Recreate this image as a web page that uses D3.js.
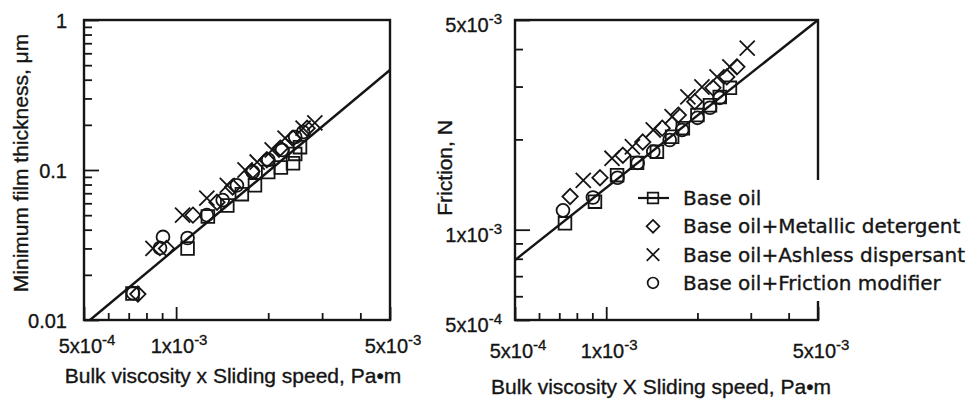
<!DOCTYPE html>
<html>
<head>
<meta charset="utf-8">
<script src="https://cdn.jsdelivr.net/npm/d3@7"></script>
<style>
  body { margin: 0; background: #fff; }
  svg { display: block; font-family: "Liberation Sans", Arial, sans-serif; }
  text { fill: #151515; stroke: #151515; stroke-width: 0.35px; }
</style>
</head>
<body>
<svg id="chart" width="967" height="399"></svg>
<script>
// shared x axis: bulk viscosity x sliding speed, Pa·m
const xDomain = [5e-4, 5e-3];
const xTickValues = [5e-4, 1e-3, 5e-3];
const xTickBase = ['5x10', '1x10', '5x10'];
const xTickExp = ['-4', '-3', '-3'];

// left panel: minimum film thickness, µm
const filmDomain = [0.01, 1];
const filmTickValues = [0.01, 0.1, 1];
const filmTickLabels = ['0.01', '0.1', '1'];
const filmFit = [[5.23e-4, 0.01], [5e-3, 0.464]];
const filmBaseOil = [[7.2e-4, 0.015], [1.09e-3, 0.030], [1.27e-3, 0.049], [1.47e-3, 0.058], [1.64e-3, 0.069],
  [1.81e-3, 0.079], [2.0e-3, 0.097], [2.2e-3, 0.104], [2.41e-3, 0.111], [2.45e-3, 0.128], [2.54e-3, 0.142]];
const filmDetergent = [[7.5e-4, 0.0149], [9.3e-4, 0.030], [1.135e-3, 0.050], [1.36e-3, 0.061], [1.53e-3, 0.077],
  [1.77e-3, 0.098], [1.98e-3, 0.117], [2.19e-3, 0.140], [2.41e-3, 0.163], [2.68e-3, 0.190]];
const filmAshless = [[8.4e-4, 0.030], [1.05e-3, 0.050], [1.26e-3, 0.065], [1.47e-3, 0.079], [1.68e-3, 0.100],
  [1.84e-3, 0.113], [2.06e-3, 0.136], [2.27e-3, 0.163], [2.6e-3, 0.190], [2.84e-3, 0.206]];
const filmFriction = [[7.23e-4, 0.0151], [8.86e-4, 0.0302], [9.06e-4, 0.0358], [1.09e-3, 0.0352], [1.26e-3, 0.050],
  [1.42e-3, 0.063], [1.58e-3, 0.079], [1.78e-3, 0.097], [2.0e-3, 0.117], [2.22e-3, 0.136], [2.45e-3, 0.166], [2.6e-3, 0.179]];

// right panel: friction, N
const frictionDomain = [5e-4, 5e-3];
const frictionTickValues = [5e-4, 1e-3, 5e-3];
const frictionTickBase = ['5x10', '1x10', '5x10'];
const frictionTickExp = ['-4', '-3', '-3'];
const frictionFit = [[5e-4, 7.92e-4], [5e-3, 5e-3]];
const frictionBaseOil = [[7.31e-4, 1.05e-3], [9.18e-4, 1.24e-3], [1.086e-3, 1.52e-3], [1.264e-3, 1.67e-3], [1.47e-3, 1.82e-3],
  [1.65e-3, 2.04e-3], [1.79e-3, 2.18e-3], [2.0e-3, 2.41e-3], [2.2e-3, 2.6e-3], [2.37e-3, 2.77e-3], [2.56e-3, 2.97e-3]];
const frictionDetergent = [[7.6e-4, 1.29e-3], [9.54e-4, 1.49e-3], [1.135e-3, 1.77e-3], [1.32e-3, 1.96e-3], [1.53e-3, 2.18e-3],
  [1.73e-3, 2.41e-3], [1.96e-3, 2.67e-3], [2.25e-3, 2.97e-3], [2.5e-3, 3.23e-3], [2.7e-3, 3.49e-3]];
const frictionAshless = [[8.4e-4, 1.46e-3], [1.045e-3, 1.73e-3], [1.22e-3, 1.89e-3], [1.43e-3, 2.15e-3], [1.65e-3, 2.38e-3],
  [1.86e-3, 2.77e-3], [2.07e-3, 2.99e-3], [2.32e-3, 3.23e-3], [2.56e-3, 3.49e-3], [2.92e-3, 4.03e-3]];
const frictionFriction = [[7.2e-4, 1.16e-3], [9.04e-4, 1.28e-3], [1.09e-3, 1.49e-3], [1.27e-3, 1.67e-3], [1.43e-3, 1.82e-3],
  [1.62e-3, 1.99e-3], [1.78e-3, 2.15e-3], [2.0e-3, 2.36e-3], [2.2e-3, 2.55e-3], [2.37e-3, 2.75e-3]];

const seriesNames = ['Base oil', 'Base oil+Metallic detergent', 'Base oil+Ashless dispersant', 'Base oil+Friction modifier'];
const seriesShapes = ['square', 'diamond', 'times', 'circle'];

const ink = '#151515';
const svg = d3.select('#chart');

const symbolType = {
  square: d3.symbolSquare2,
  diamond: d3.symbolDiamond2,
  times: d3.symbolTimes,
  circle: d3.symbolCircle
};
const symbolSize = { square: 205, diamond: 150, times: 150, circle: 130 };

function symbolPath(shape, scale = 1) {
  return d3.symbol().type(symbolType[shape]).size(symbolSize[shape] * scale)();
}

function addExpLabel(sel, base, exp) {
  sel.append('tspan').text(base);
  sel.append('tspan').attr('dy', -8).attr('font-size', 15).text(exp);
}

function drawPanel(p) {
  const x = d3.scaleLog().domain(xDomain).range([p.left, p.right]);
  const y = d3.scaleLog().domain(p.yDomain).range([p.bottom, p.top]);
  const g = svg.append('g').attr('color', ink);

  const isMajor = (v, list) => list.some((t) => Math.abs(Math.log10(v / t)) < 1e-6);
  const xMinor = x.ticks().filter((v) => !isMajor(v, xTickValues));
  const yMinor = y.ticks().filter((v) => !isMajor(v, p.yTickValues));

  const tickAxis = (axis, values, len) => (sel) => {
    sel.call(axis.tickValues(values).tickSize(-len).tickSizeOuter(0).tickFormat(() => ''));
    sel.select('.domain').remove();
    sel.selectAll('line').attr('stroke-width', 1.8);
  };

  g.append('g').attr('transform', `translate(0,${p.bottom})`).call(tickAxis(d3.axisBottom(x), xMinor, 7));
  g.append('g').attr('transform', `translate(0,${p.bottom})`).call(tickAxis(d3.axisBottom(x), xTickValues, 13));
  g.append('g').attr('transform', `translate(${p.left},0)`).call(tickAxis(d3.axisLeft(y), yMinor, 8));
  g.append('g').attr('transform', `translate(${p.left},0)`).call(tickAxis(d3.axisLeft(y), p.yTickValues, 15));

  // fit line
  g.append('path')
    .datum(p.fit)
    .attr('fill', 'none')
    .attr('stroke', ink)
    .attr('stroke-width', 2.4)
    .attr('d', d3.line().x((d) => x(d[0])).y((d) => y(d[1])));

  // points
  p.series.forEach((pts, i) => {
    const shape = seriesShapes[i];
    g.append('g')
      .selectAll('path')
      .data(pts)
      .join('path')
      .attr('transform', (d) => `translate(${x(d[0])},${y(d[1])})`)
      .attr('d', symbolPath(shape))
      .attr('fill', 'none')
      .attr('stroke', ink)
      .attr('stroke-width', 1.8);
  });

  // frame
  g.append('rect')
    .attr('x', p.left).attr('y', p.top)
    .attr('width', p.right - p.left).attr('height', p.bottom - p.top)
    .attr('fill', 'none').attr('stroke', ink).attr('stroke-width', 2.4);

  // x tick labels
  xTickValues.forEach((v, i) => {
    const t = g.append('text')
      .attr('x', x(v) + 3).attr('y', p.bottom + p.xLabelDy)
      .attr('text-anchor', 'middle').attr('font-size', 20);
    addExpLabel(t, xTickBase[i], xTickExp[i]);
  });

  // y tick labels
  p.yTickValues.forEach((v, i) => {
    const t = g.append('text')
      .attr('x', p.left - p.yLabelGap).attr('y', y(v) + p.yLabelDy)
      .attr('text-anchor', 'end').attr('font-size', 20);
    if (p.yTickExp) addExpLabel(t, p.yTickBase[i], p.yTickExp[i]);
    else t.text(p.yTickBase[i]);
  });

  // axis titles
  g.append('text')
    .attr('x', p.xTitleX).attr('y', p.xTitleY)
    .attr('text-anchor', 'middle').attr('font-size', 21)
    .text(p.xTitle);
  g.append('text')
    .attr('transform', `translate(${p.yTitleX},${p.yTitleY}) rotate(-90)`)
    .attr('text-anchor', 'middle').attr('font-size', 21)
    .text(p.yTitle);

  return { x, y, g };
}

drawPanel({
  left: 84, right: 390, top: 20, bottom: 320,
  yDomain: filmDomain, yTickValues: filmTickValues, yTickBase: filmTickLabels,
  fit: filmFit,
  series: [filmBaseOil, filmDetergent, filmAshless, filmFriction],
  xLabelDy: 33, yLabelGap: 17, yLabelDy: 8,
  xTitle: 'Bulk viscosity x Sliding speed, Pa\u2022m', xTitleX: 233, xTitleY: 383,
  yTitle: 'Minimum film thickness, \u03bcm', yTitleX: 28, yTitleY: 163
});

drawPanel({
  left: 515, right: 818, top: 20, bottom: 320,
  yDomain: frictionDomain, yTickValues: frictionTickValues,
  yTickBase: frictionTickBase, yTickExp: frictionTickExp,
  fit: frictionFit,
  series: [frictionBaseOil, frictionDetergent, frictionAshless, frictionFriction],
  xLabelDy: 38, yLabelGap: 13, yLabelDy: 12,
  xTitle: 'Bulk viscosity X Sliding speed, Pa\u2022m', xTitleX: 661, xTitleY: 394,
  yTitle: 'Friction, N', yTitleX: 452, yTitleY: 168
});

// legend (covers part of the right frame, as in the original)
const legend = svg.append('g').attr('transform', 'translate(630,180)');
legend.append('rect').attr('width', 337).attr('height', 121).attr('fill', '#fff');
seriesNames.forEach((name, i) => {
  const row = legend.append('g').attr('transform', `translate(0,${25 + i * 28.3})`);
  if (i === 0) {
    row.append('line').attr('x1', 8).attr('x2', 39).attr('y1', -7).attr('y2', -7)
      .attr('stroke', ink).attr('stroke-width', 2.2);
  }
  row.append('path')
    .attr('transform', 'translate(23,-7)')
    .attr('d', symbolPath(seriesShapes[i], 0.7))
    .attr('fill', 'none')
    .attr('stroke', ink).attr('stroke-width', 1.7);
  row.append('text')
    .attr('x', 53).attr('y', 0)
    .attr('font-family', '"DejaVu Sans", sans-serif')
    .attr('font-size', 20)
    .text(name);
});
</script>
</body>
</html>
